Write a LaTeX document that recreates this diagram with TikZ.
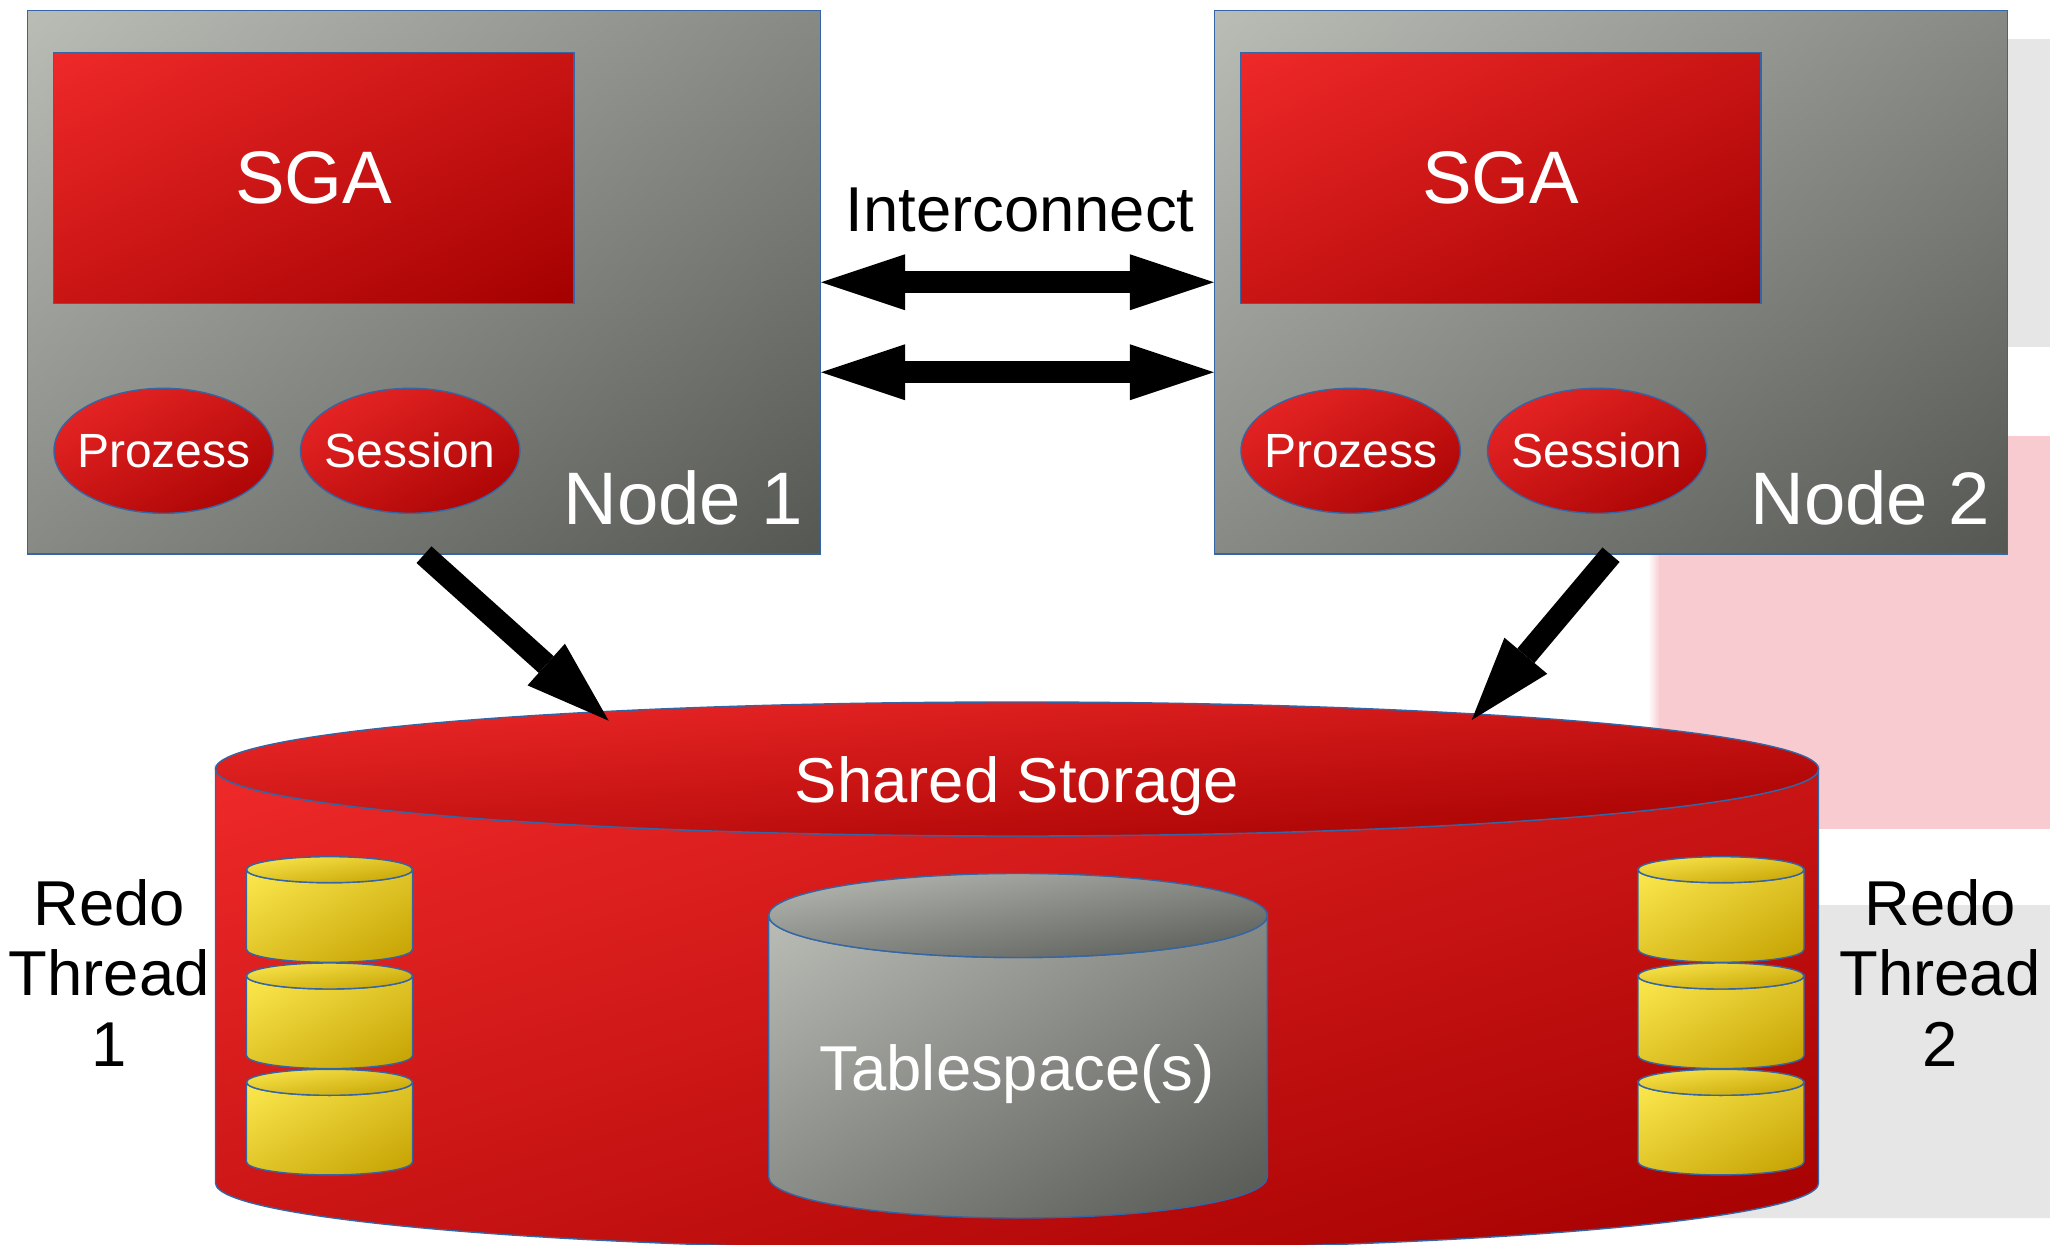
\documentclass[tikz,border=0pt]{standalone}
\usepackage{fontspec}
\setmainfont{Liberation Sans}
\usetikzlibrary{arrows.meta,shapes.geometric,shadings}

\definecolor{redA}{HTML}{EF2929}
\definecolor{redB}{HTML}{A40000}
\definecolor{grayA}{HTML}{BABDB6}
\definecolor{grayB}{HTML}{555753}
\definecolor{yelA}{HTML}{FCE94F}
\definecolor{yelB}{HTML}{C4A000}
\definecolor{edgeblue}{HTML}{3465A4}
\definecolor{pinkbg}{RGB}{248,203,208}
\definecolor{lightbg}{RGB}{230,230,230}

\newcommand\fntbig{\fontsize{37.2}{44}\selectfont}
\newcommand\fntmid{\fontsize{31.7}{35.4}\selectfont}
\newcommand\fntsmall{\fontsize{24}{28}\selectfont}

\tikzset{
  diag/.style 2 args={upper left=#1, lower right=#2,
    upper right=#1!50!#2, lower left=#1!50!#2},
  redfill/.style={diag={redA}{redB}},
  grayfill/.style={diag={grayA}{grayB}},
  yelfill/.style={diag={yelA}{yelB}},
  outline/.style={draw=edgeblue, line width=0.7pt},
  hostbox/.style={rectangle, outline, grayfill, inner sep=0pt,
    minimum width=396.5pt, minimum height=271.75pt},
  sgabox/.style={rectangle, outline, redfill, inner sep=0pt,
    minimum width=260.2pt, minimum height=125.5pt,
    font=\fntbig, text=white},
  proc/.style={ellipse, outline, redfill, inner sep=0pt,
    minimum width=109.7pt, minimum height=62.5pt,
    font=\fntsmall, text=white},
  hostlabel/.style={font=\fntbig, text=white, anchor=base, inner sep=0pt},
  textlabel/.style={font=\fntmid, anchor=base, inner sep=0pt},
  fatarrow/.style={draw=black, line width=11.2pt},
  headtip/.tip={Triangle[length=42pt, width=28pt, line width=0pt]},
}

\begin{document}
\begin{tikzpicture}[x=0.5pt, y=-0.5pt]
\useasboundingbox (0,0) rectangle (2050,1245);
\clip (0,0) rectangle (2050,1245);
\fill[white] (0,0) rectangle (2050,1245);

% panels along the right border
\fill[lightbg] (1900,39) rectangle (2050,347);
\shade[left color=white, right color=pinkbg] (1648,436) rectangle (1660,829);
\fill[pinkbg] (1659,436) rectangle (2050,829);
\fill[lightbg, rounded corners=10pt] (1700,905) rectangle (2080,1218);

% the two cluster hosts
\node[hostbox] (n1) at (424,282.25) {};
\node[hostbox] (n2) at (1611,282.25) {};
\node[sgabox] (sga1) at (313.8,177.8) {SGA};
\node[sgabox] (sga2) at (1500.8,177.8) {SGA};
\node[proc] (p1) at (163.7,450.8) {\makebox[0pt]{Prozess}};
\node[proc] (s1) at (410.2,450.8) {\makebox[0pt]{Session}};
\node[proc] (p2) at (1350.7,450.8) {\makebox[0pt]{Prozess}};
\node[proc] (s2) at (1597.2,450.8) {\makebox[0pt]{Session}};
\node[hostlabel] (l1) at (683.3,524.3) {Node 1};
\node[hostlabel] (l2) at (1870.3,524.3) {Node 2};

% shared storage cylinder
\path[outline, redfill] (215.5,769) -- (215.5,1183)
  arc[start angle=180, end angle=0, x radius=801.5, y radius=67]
  -- (1818.5,769)
  arc[start angle=0, end angle=180, x radius=801.5, y radius=67] -- cycle;
\path[outline, redfill] (1017,769) ellipse[x radius=801.5, y radius=67];
\node[textlabel, text=white] (ss) at (1017,802) {Shared Storage};

% tablespace cylinder
\path[outline, grayfill] (768.7,915.5) -- (768.7,1177)
  arc[start angle=180, end angle=0, x radius=249.3, y radius=41]
  -- (1267.3,915.5)
  arc[start angle=0, end angle=180, x radius=249.3, y radius=42] -- cycle;
\path[outline, grayfill] (1018,915.5) ellipse[x radius=249.3, y radius=42];
\node[textlabel, text=white] (ts) at (1017,1090) {Tablespace(s)};

% redo log stacks
\foreach \cx in {329.5,1721}{
  \foreach \cy in {869.7,976,1082.3}{
    \path[outline, yelfill] (\cx-83,\cy) -- (\cx-83,\cy+79.6)
      arc[start angle=180, end angle=0, x radius=83, y radius=13]
      -- (\cx+83,\cy)
      arc[start angle=0, end angle=180, x radius=83, y radius=13] -- cycle;
    \path[outline, yelfill] (\cx,\cy) ellipse[x radius=83, y radius=13];
  }
}
% base anchor of a multi-line label sits on its last line
\node[textlabel, align=center] (r1) at (109.2,1066.7) {Redo\\Thread\\1};
\node[textlabel, align=center] (r2) at (1940,1066.7) {Redo\\Thread\\2};

% interconnect
\node[textlabel] (ic) at (1020,231.7) {Interconnect};
\draw[fatarrow, {headtip}-{headtip}] (n1.east) -- (n2.west);
\draw[fatarrow, {headtip}-{headtip}] ([yshift=-45pt]n1.east) -- ([yshift=-45pt]n2.west);

% hosts writing to the shared storage
\coordinate (st1) at (608.7,720.7);
\coordinate (st2) at (1471.7,720);
\draw[fatarrow, -{headtip}] (n1.south) -- (st1);
\draw[fatarrow, -{headtip}] (n2.south) -- (st2);
\end{tikzpicture}
\end{document}
